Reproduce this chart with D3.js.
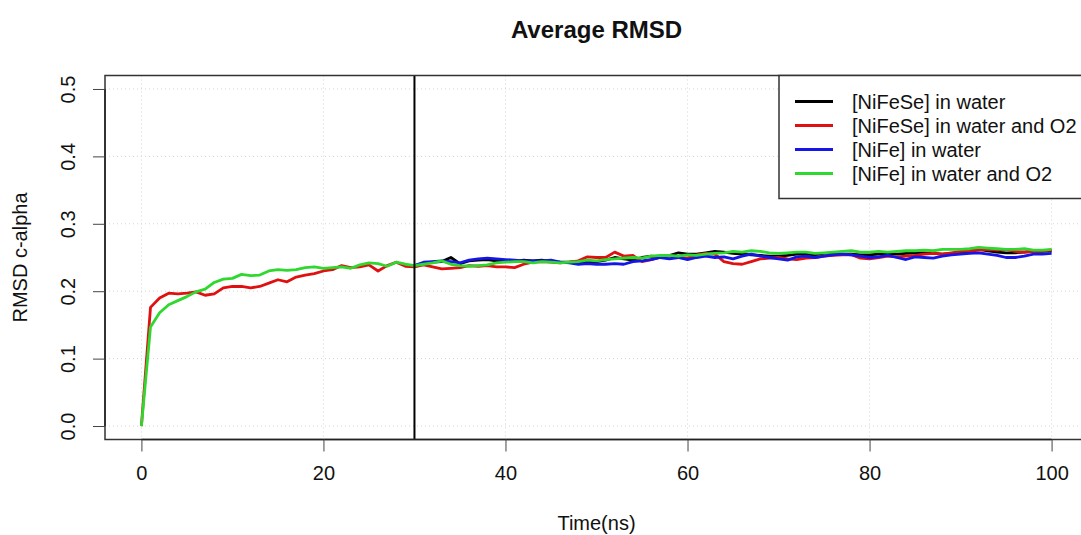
<!DOCTYPE html>
<html>
<head>
<meta charset="utf-8">
<script src="https://cdn.jsdelivr.net/npm/d3@7"></script>
<style>
  body { margin: 0; background: #fff; }
  svg { font-family: "Liberation Sans", Arial, sans-serif; }
</style>
</head>
<body>
<script>
// Time axis (ns) and series values
const timeAll = d3.range(0, 101);
const timeLate = d3.range(30, 101);

const redVals = [0.000, 0.176, 0.190, 0.197, 0.196, 0.197, 0.199, 0.194, 0.196, 0.205,
  0.207, 0.207, 0.205, 0.207, 0.212, 0.217, 0.214, 0.221, 0.224, 0.226,
  0.230, 0.232, 0.238, 0.235, 0.236, 0.239, 0.230, 0.238, 0.243, 0.237,
  0.236, 0.239, 0.236, 0.233, 0.234, 0.235, 0.238, 0.237, 0.238, 0.236,
  0.236, 0.235, 0.240, 0.243, 0.244, 0.243, 0.242, 0.243, 0.245, 0.251,
  0.250, 0.250, 0.258, 0.252, 0.253, 0.244, 0.247, 0.250, 0.252, 0.250,
  0.249, 0.254, 0.256, 0.255, 0.244, 0.241, 0.240, 0.244, 0.248, 0.249,
  0.250, 0.248, 0.247, 0.249, 0.250, 0.252, 0.253, 0.254, 0.254, 0.249,
  0.248, 0.250, 0.252, 0.251, 0.252, 0.253, 0.255, 0.256, 0.255, 0.257,
  0.259, 0.260, 0.261, 0.262, 0.261, 0.262, 0.259, 0.258, 0.259, 0.260, 0.261];

const greenVals = [0.000, 0.147, 0.168, 0.180, 0.186, 0.192, 0.199, 0.203, 0.213, 0.218,
  0.219, 0.225, 0.223, 0.224, 0.230, 0.232, 0.231, 0.232, 0.235, 0.236,
  0.234, 0.235, 0.236, 0.234, 0.239, 0.242, 0.241, 0.237, 0.243, 0.240,
  0.238, 0.240, 0.242, 0.245, 0.240, 0.238, 0.237, 0.238, 0.239, 0.242,
  0.243, 0.244, 0.244, 0.242, 0.244, 0.243, 0.242, 0.243, 0.244, 0.246,
  0.245, 0.247, 0.248, 0.249, 0.250, 0.249, 0.252, 0.253, 0.253, 0.252,
  0.254, 0.253, 0.255, 0.256, 0.257, 0.259, 0.258, 0.260, 0.259, 0.257,
  0.256, 0.257, 0.258, 0.258, 0.256, 0.257, 0.258, 0.259, 0.260, 0.258,
  0.258, 0.259, 0.258, 0.259, 0.260, 0.260, 0.261, 0.260, 0.262, 0.262,
  0.262, 0.263, 0.265, 0.264, 0.263, 0.262, 0.262, 0.263, 0.261, 0.261, 0.262];

// these two only run from 30 ns on
const blackVals = [0.238, 0.241, 0.243, 0.244, 0.250, 0.241, 0.245, 0.246, 0.247, 0.245,
  0.245, 0.244, 0.246, 0.245, 0.246, 0.244, 0.243, 0.243, 0.244, 0.243,
  0.244, 0.246, 0.250, 0.248, 0.246, 0.250, 0.252, 0.251, 0.253, 0.257,
  0.255, 0.255, 0.257, 0.259, 0.258, 0.256, 0.255, 0.254, 0.253, 0.252,
  0.252, 0.253, 0.255, 0.255, 0.254, 0.256, 0.256, 0.255, 0.255, 0.254,
  0.254, 0.255, 0.256, 0.255, 0.256, 0.257, 0.257, 0.256, 0.255, 0.256,
  0.256, 0.259, 0.262, 0.260, 0.258, 0.257, 0.257, 0.258, 0.259, 0.259, 0.260];

const blueVals = [0.238, 0.243, 0.244, 0.245, 0.244, 0.242, 0.246, 0.248, 0.249, 0.248,
  0.247, 0.246, 0.245, 0.245, 0.245, 0.246, 0.243, 0.242, 0.240, 0.241,
  0.240, 0.240, 0.241, 0.240, 0.244, 0.245, 0.247, 0.250, 0.248, 0.250,
  0.247, 0.250, 0.252, 0.250, 0.251, 0.248, 0.252, 0.255, 0.252, 0.250,
  0.248, 0.246, 0.251, 0.252, 0.250, 0.252, 0.254, 0.255, 0.254, 0.252,
  0.250, 0.251, 0.253, 0.250, 0.247, 0.251, 0.250, 0.249, 0.252, 0.254,
  0.255, 0.256, 0.257, 0.255, 0.253, 0.250, 0.250, 0.252, 0.255, 0.255, 0.256];

const seriesNames = ["[NiFeSe] in water", "[NiFeSe] in water and O2", "[NiFe] in water", "[NiFe] in water and O2"];
const seriesColors = ["#000000", "#e01010", "#1515e8", "#2fd82f"];

const xTicks = [0, 20, 40, 60, 80, 100];
const yTicks = [0.0, 0.1, 0.2, 0.3, 0.4, 0.5];
const markTime = 30;

const W = 1081, H = 535;
// R style: data range padded 4% on each side
const x = d3.scaleLinear().domain([-4, 104]).range([105, 1088]);
const y = d3.scaleLinear().domain([-0.02, 0.52]).range([439.5, 75.5]);

const svg = d3.select("body").append("svg")
  .attr("width", W)
  .attr("height", H);

// grid
const grid = svg.append("g")
  .attr("stroke", "#d4d4d4")
  .attr("stroke-width", 1)
  .attr("stroke-dasharray", "1,3");
grid.selectAll("line.gx").data(xTicks).join("line")
  .attr("class", "gx")
  .attr("x1", (d) => x(d)).attr("x2", (d) => x(d))
  .attr("y1", y.range()[1]).attr("y2", y.range()[0]);
grid.selectAll("line.gy").data(yTicks).join("line")
  .attr("class", "gy")
  .attr("x1", x.range()[0]).attr("x2", x.range()[1])
  .attr("y1", (d) => y(d)).attr("y2", (d) => y(d));

// lines, drawn in the order R would have plotted them
const series = [
  { t: timeLate, v: blackVals, c: seriesColors[0] },
  { t: timeAll, v: redVals, c: seriesColors[1] },
  { t: timeLate, v: blueVals, c: seriesColors[2] },
  { t: timeAll, v: greenVals, c: seriesColors[3] },
];
const line = d3.line().x((d) => x(d[0])).y((d) => y(d[1]));
svg.append("g").selectAll("path").data(series).join("path")
  .attr("fill", "none")
  .attr("stroke", (d) => d.c)
  .attr("stroke-width", 2.8)
  .attr("stroke-linejoin", "round")
  .attr("d", (d) => line(d3.zip(d.t, d.v)));

// vertical marker at 30 ns
svg.append("line")
  .attr("x1", x(markTime)).attr("x2", x(markTime))
  .attr("y1", y.range()[1]).attr("y2", y.range()[0])
  .attr("stroke", "#000").attr("stroke-width", 2);

// plot box
svg.append("rect")
  .attr("x", x.range()[0]).attr("y", y.range()[1])
  .attr("width", x.range()[1] - x.range()[0])
  .attr("height", y.range()[0] - y.range()[1])
  .attr("fill", "none").attr("stroke", "#333").attr("stroke-width", 1.5);

// axes
const xAxis = svg.append("g")
  .attr("transform", `translate(0,${y.range()[0]})`)
  .call(d3.axisBottom(x).tickValues(xTicks).tickSize(12).tickSizeOuter(0).tickPadding(14));
xAxis.select(".domain").attr("d", `M${x(0)},0H${x(100)}`).attr("stroke", "#222").attr("stroke-width", 1.5);
xAxis.selectAll(".tick line").attr("stroke", "#444");
xAxis.selectAll("text").attr("font-size", 20).attr("font-family", "Liberation Sans").attr("fill", "#111");

const yAxis = svg.append("g")
  .attr("transform", `translate(${x.range()[0]},0)`)
  .call(d3.axisLeft(y).tickValues(yTicks).tickSize(12).tickSizeOuter(0).tickFormat(d3.format(".1f")));
yAxis.select(".domain").attr("d", `M0,${y(0)}V${y(0.5)}`).attr("stroke", "#222").attr("stroke-width", 1.5);
yAxis.selectAll(".tick line").attr("stroke", "#444");
yAxis.selectAll("text")
  .attr("font-size", 20).attr("font-family", "Liberation Sans").attr("fill", "#111")
  .attr("x", null).attr("dy", null)
  .attr("text-anchor", "middle")
  .attr("transform", "translate(-35,0) rotate(-90)")
  .attr("y", 0)
  .attr("dominant-baseline", "middle");

// titles
svg.append("text")
  .attr("x", (x.range()[0] + x.range()[1]) / 2).attr("y", 38)
  .attr("text-anchor", "middle")
  .attr("font-size", 24).attr("font-weight", "bold").attr("fill", "#111")
  .text("Average RMSD");
svg.append("text")
  .attr("x", (x.range()[0] + x.range()[1]) / 2).attr("y", 530)
  .attr("text-anchor", "middle")
  .attr("font-size", 20).attr("fill", "#111")
  .text("Time(ns)");
svg.append("text")
  .attr("transform", `translate(27,${(y.range()[0] + y.range()[1]) / 2}) rotate(-90)`)
  .attr("text-anchor", "middle")
  .attr("font-size", 20).attr("fill", "#111")
  .text("RMSD c-alpha");

// legend, top right inside the box
const lg = svg.append("g").attr("transform", "translate(779,75.5)");
lg.append("rect")
  .attr("width", x.range()[1] - 779).attr("height", 123)
  .attr("fill", "#fff").attr("stroke", "#333").attr("stroke-width", 1.5);
const rows = lg.selectAll("g.row").data(seriesNames).join("g")
  .attr("class", "row")
  .attr("transform", (d, i) => `translate(0,${26 + i * 24})`);
rows.append("line")
  .attr("x1", 16).attr("x2", 54)
  .attr("stroke", (d, i) => seriesColors[i]).attr("stroke-width", 2.8);
rows.append("text")
  .attr("x", 73).attr("dy", "0.35em")
  .attr("font-size", 20).attr("fill", "#111")
  .text((d) => d);
</script>
</body>
</html>
